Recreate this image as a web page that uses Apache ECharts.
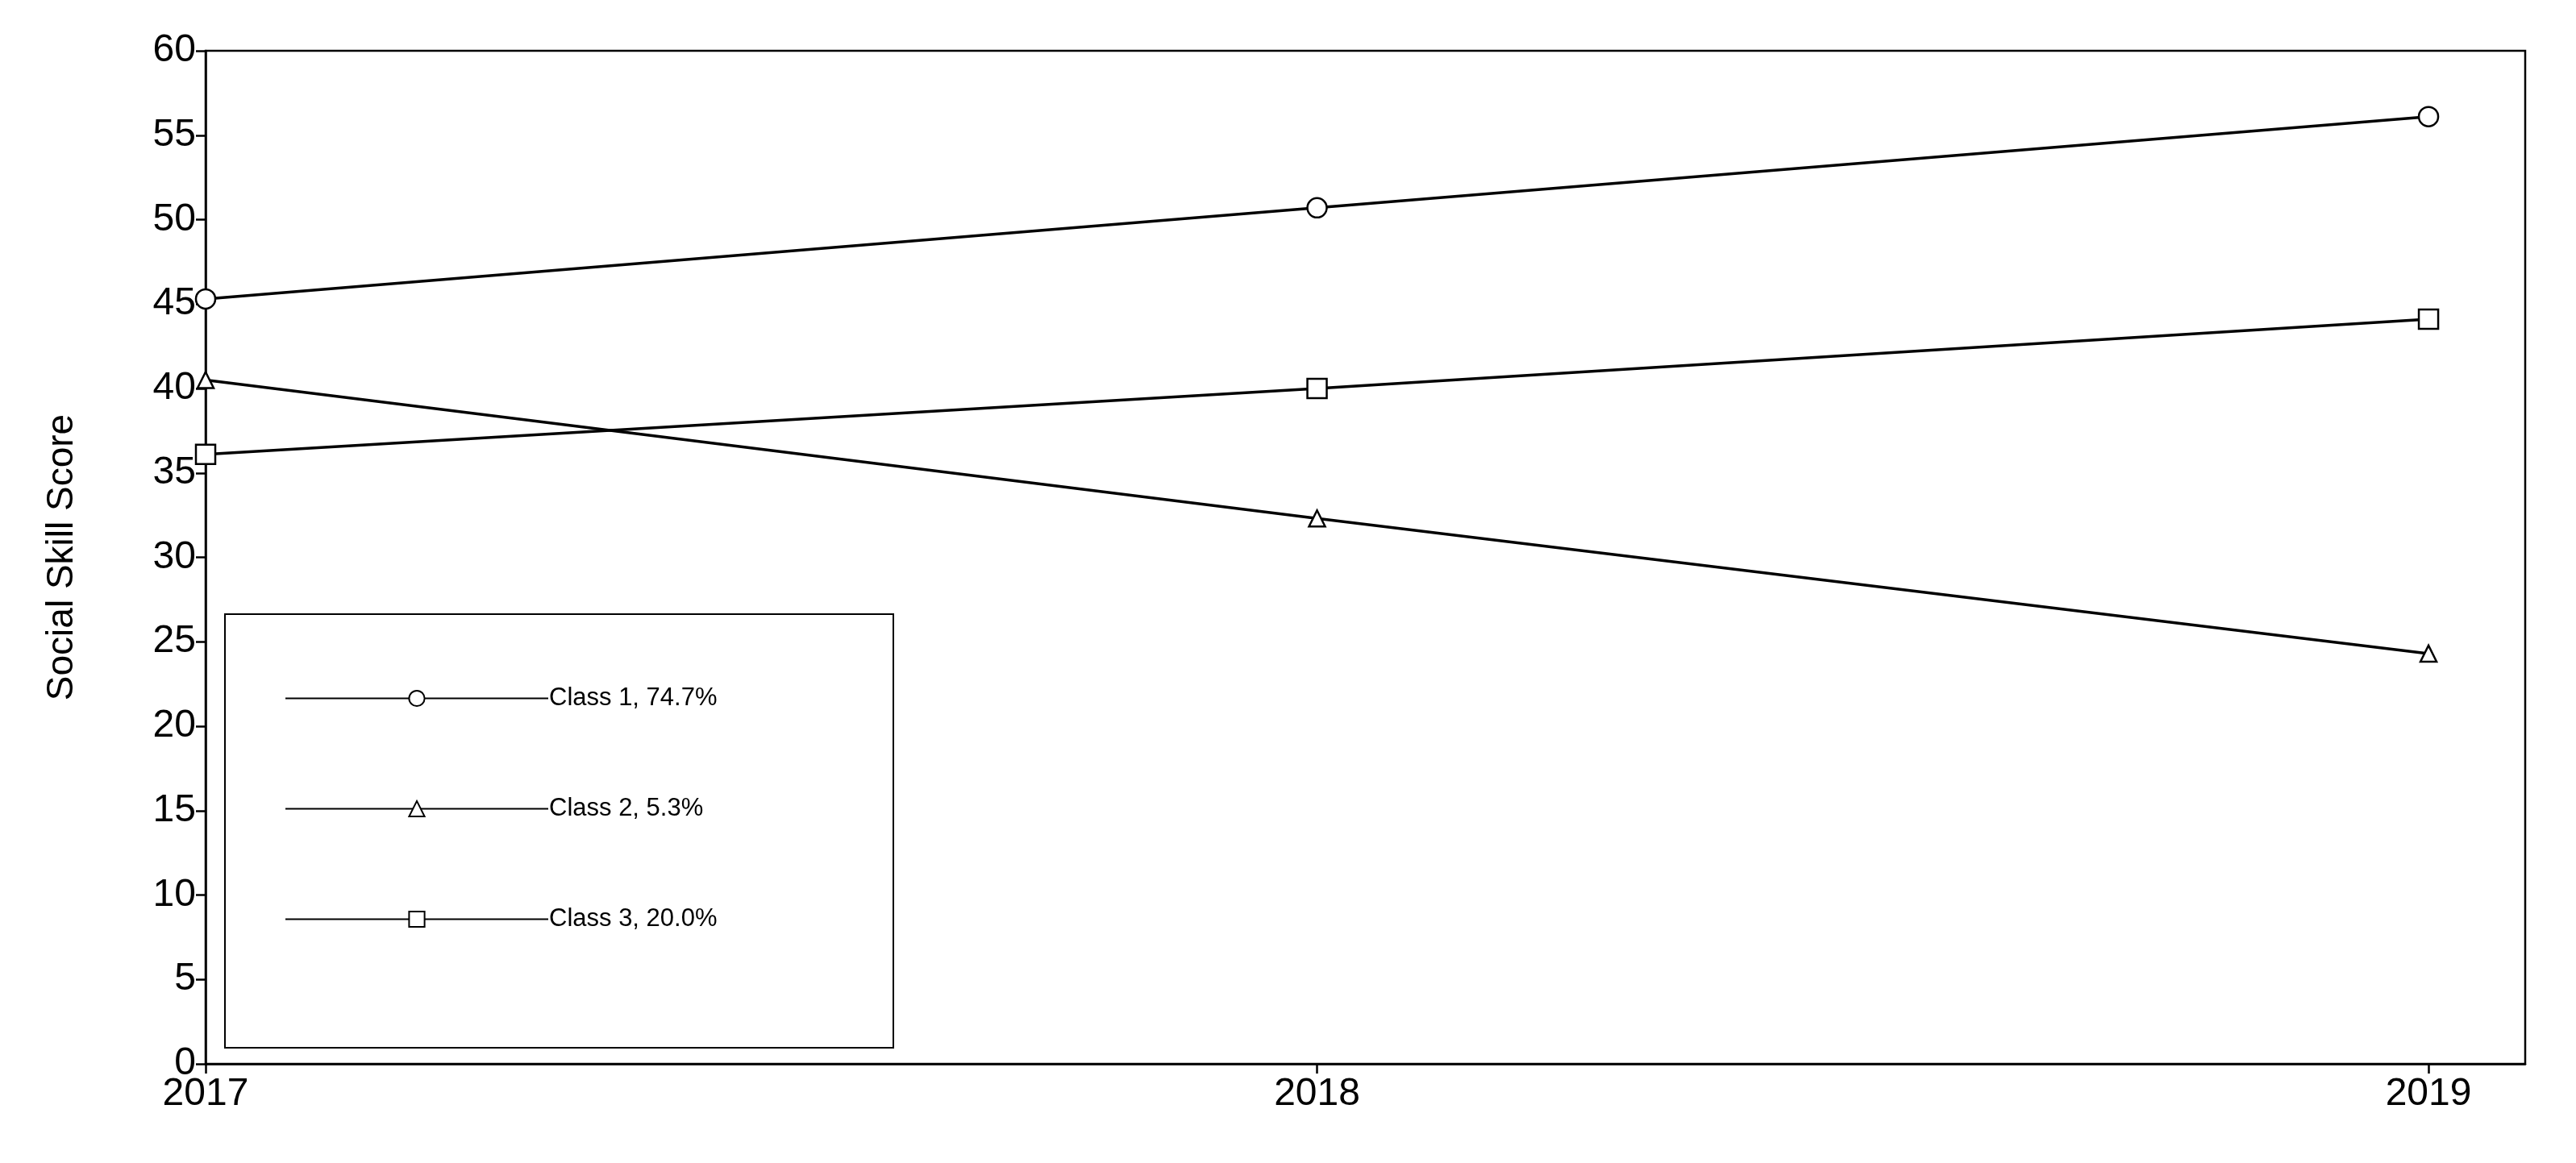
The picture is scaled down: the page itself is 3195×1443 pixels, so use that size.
<!DOCTYPE html>
<html>
<head>
<meta charset="utf-8">
<script src="https://cdn.jsdelivr.net/npm/echarts@6/dist/echarts.min.js"></script>
<style>
  html, body { margin: 0; padding: 0; background: #fff; }
  #chart { width: 3195px; height: 1443px; }
</style>
</head>
<body>
<div id="chart"></div>
<script>
// data
const years = [2017, 2018, 2019]
const class1 = [45.3, 50.7, 56.1]
const class2 = [40.5, 32.3, 24.3]
const class3 = [36.1, 40.0, 44.1]
const seriesNames = ['Class 1, 74.7%', 'Class 2, 5.3%', 'Class 3, 20.0%']
const symbols = ['circle', 'triangle', 'rect']

const chart = echarts.init(document.getElementById('chart'))

const makeSeries = (name, values, symbol) => ({
  name: name,
  type: 'line',
  data: years.map((y, i) => [y, values[i]]),
  symbol: symbol,
  symbolSize: symbol === 'triangle' ? 20 : 24,
  showAllSymbol: true,
  clip: false,
  lineStyle: { color: '#000', width: 3.5 },
  itemStyle: { color: '#fff', borderColor: '#000', borderWidth: 2.5 },
  emphasis: { disabled: true }
})

chart.setOption({
  animation: false,
  grid: {
    left: 255, top: 63, right: 63, bottom: 123,
    show: true, borderColor: '#000', borderWidth: 2.5, backgroundColor: 'transparent'
  },
  xAxis: {
    type: 'value',
    min: 2017,
    max: 2019.087,
    interval: 1,
    splitLine: { show: false },
    axisLine: { lineStyle: { color: '#000', width: 2.5 } },
    axisTick: { length: 12, lineStyle: { color: '#000', width: 2.5 } },
    axisLabel: {
      showMaxLabel: false,
      color: '#000', fontSize: 48, fontFamily: 'Liberation Sans Narrow, Arial Narrow, sans-serif', margin: 14,
      formatter: v => String(Math.round(v))
    }
  },
  yAxis: {
    type: 'value',
    min: 0, max: 60, interval: 5,
    name: 'Social Skill Score',
    nameLocation: 'middle',
    nameGap: 155,
    nameTextStyle: { color: '#000', fontSize: 46, fontFamily: 'Liberation Sans, Arial, sans-serif' },
    splitLine: { show: false },
    axisLine: { show: true, lineStyle: { color: '#000', width: 2.5 } },
    axisTick: { length: 12, lineStyle: { color: '#000', width: 2.5 } },
    axisLabel: { color: '#000', fontSize: 48, fontFamily: 'Liberation Sans Narrow, Arial Narrow, sans-serif', margin: 12 }
  },
  legend: {
    orient: 'vertical',
    left: 348,
    top: 846,
    itemWidth: 326,
    itemHeight: 24,
    itemGap: 106,
    z: 20,
    selectedMode: false,
    data: seriesNames,
    textStyle: { color: '#000', fontSize: 31, fontFamily: 'Liberation Sans Narrow, Arial Narrow, sans-serif', padding: [0, 0, 0, -4] }
  },
  graphic: [{
    type: 'rect',
    shape: { x: 279, y: 762, width: 829, height: 538 },
    style: { fill: '#fff', stroke: '#000', lineWidth: 2 },
    z: 1
  }],
  series: [
    makeSeries(seriesNames[0], class1, symbols[0]),
    makeSeries(seriesNames[1], class2, symbols[1]),
    makeSeries(seriesNames[2], class3, symbols[2])
  ]
})
</script>
</body>
</html>
